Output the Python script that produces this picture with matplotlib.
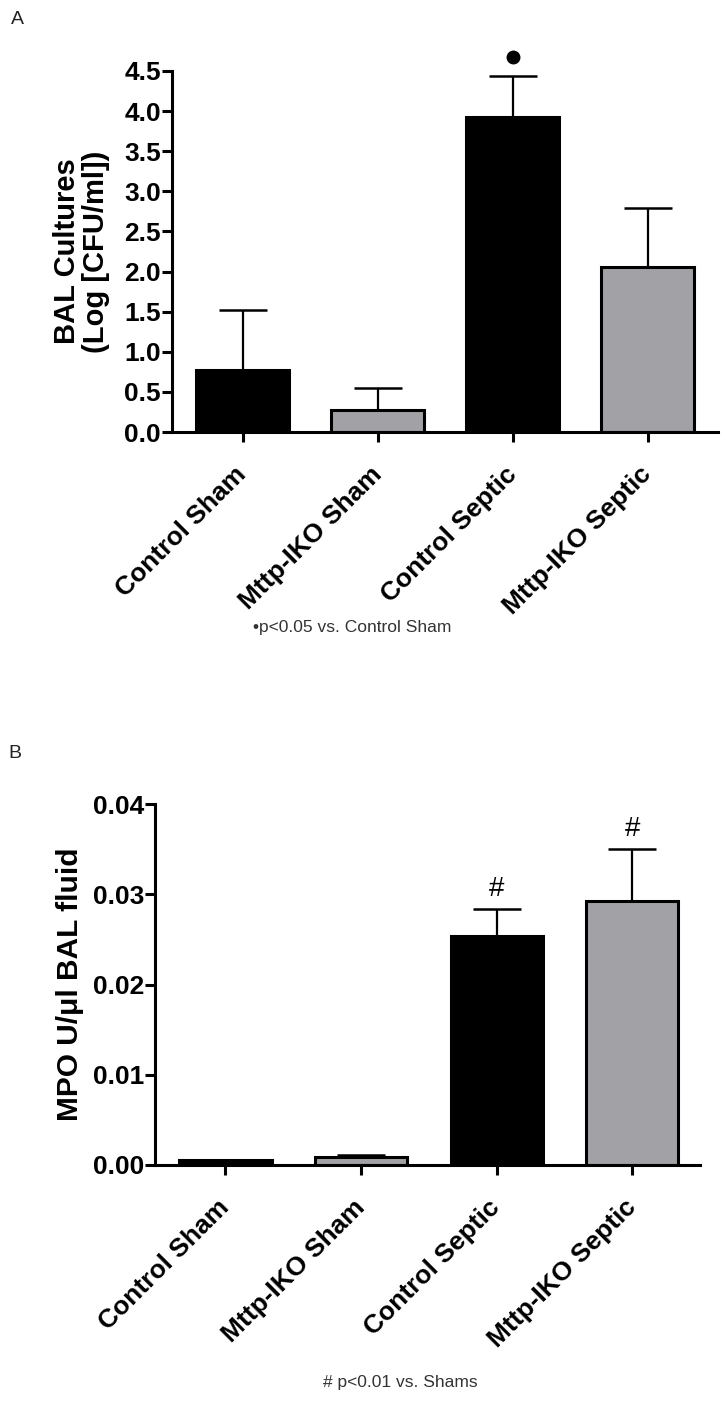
import matplotlib
matplotlib.use("Agg")
import matplotlib.pyplot as plt
import numpy as np

plt.rcParams['font.family'] = ['Liberation Sans', 'DejaVu Sans']

categories = ["Control Sham", "Mttp-IKO Sham", "Control Septic", "Mttp-IKO Septic"]
colors = ["#000000", "#a2a2a6", "#000000", "#a2a2a6"]

# Panel A: BAL cultures
bal_mean = [0.77, 0.27, 3.93, 2.06]
bal_sem = [0.75, 0.28, 0.51, 0.73]
bal_ticks = [0.0, 0.5, 1.0, 1.5, 2.0, 2.5, 3.0, 3.5, 4.0, 4.5]

# Panel B: MPO
mpo_mean = [0.0005, 0.0009, 0.0254, 0.0293]
mpo_sem = [0.0001, 0.0002, 0.0030, 0.0057]
mpo_ticks = [0.00, 0.01, 0.02, 0.03, 0.04]

fig = plt.figure(figsize=(7.28, 14.09), dpi=100)

W, H = 728.0, 1409.0
def rect(x0, x1, ytop, ybot):
    return [x0 / W, 1 - ybot / H, (x1 - x0) / W, (ybot - ytop) / H]

axA = fig.add_axes(rect(172, 718, 71, 432))
axB = fig.add_axes(rect(155, 700, 804, 1165))

LW = 2.2

def style(ax, ticks, fmt, xlim):
    for s in ["top", "right"]:
        ax.spines[s].set_visible(False)
    for s in ["left", "bottom"]:
        ax.spines[s].set_linewidth(LW)
    ax.set_ylim(ticks[0], ticks[-1])
    ax.set_yticks(ticks)
    ax.set_yticklabels([fmt.format(t) for t in ticks], fontsize=19, fontweight='bold')
    ax.set_xlim(*xlim)
    x = np.arange(len(categories))
    ax.set_xticks(x)
    ax.set_xticklabels(categories, rotation=45, ha='right', va='center',
                       rotation_mode='anchor', fontsize=19, fontweight='bold')
    ax.tick_params(axis='both', width=LW, length=7, direction='out')
    ax.tick_params(axis='x', pad=21)
    ax.tick_params(axis='y', pad=1)

def bars(ax, means, sems, width):
    x = np.arange(len(categories))
    ax.errorbar(x, means, yerr=[np.zeros(len(means)), sems], fmt='none',
                ecolor='black', elinewidth=1.6, capsize=17, capthick=1.8, zorder=1)
    ax.bar(x, means, width=width, color=colors, edgecolor='black', linewidth=LW, zorder=2)

x = np.arange(len(categories))

bars(axA, bal_mean, bal_sem, 0.69)
style(axA, bal_ticks, "{:.1f}", (-0.525, 3.52))
axA.set_ylabel("BAL Cultures\n(Log [CFU/ml])", fontsize=21, fontweight='bold',
               linespacing=1.05, labelpad=10)
axA.plot([x[2]], [bal_mean[2] + bal_sem[2] + 0.24], marker='o', color='black',
         markersize=9, clip_on=False, linestyle='none')

bars(axB, mpo_mean, mpo_sem, 0.68)
style(axB, mpo_ticks, "{:.2f}", (-0.52, 3.5))
axB.set_ylabel("MPO U/\u03bcl BAL fluid", fontsize=21.5, fontweight='bold', labelpad=6)
for i in [2, 3]:
    axB.annotate("#", (x[i], mpo_mean[i] + mpo_sem[i]), xytext=(0, 5),
                 textcoords='offset points', ha='center', va='bottom',
                 fontsize=20, annotation_clip=False)

fig.text(17 / W, 1 - 20 / H, "A", fontsize=14, ha='center', va='center', color='#222222')
fig.text(15 / W, 1 - 753 / H, "B", fontsize=14, ha='center', va='center', color='#222222')
fig.text(352 / W, 1 - 628 / H, "\u2022p<0.05 vs. Control Sham", fontsize=12.5,
         ha='center', va='center', color='#333333')
fig.text(400 / W, 1 - 1383 / H, "# p<0.01 vs. Shams", fontsize=12.5,
         ha='center', va='center', color='#333333')

fig.savefig("out.png", dpi=100)
